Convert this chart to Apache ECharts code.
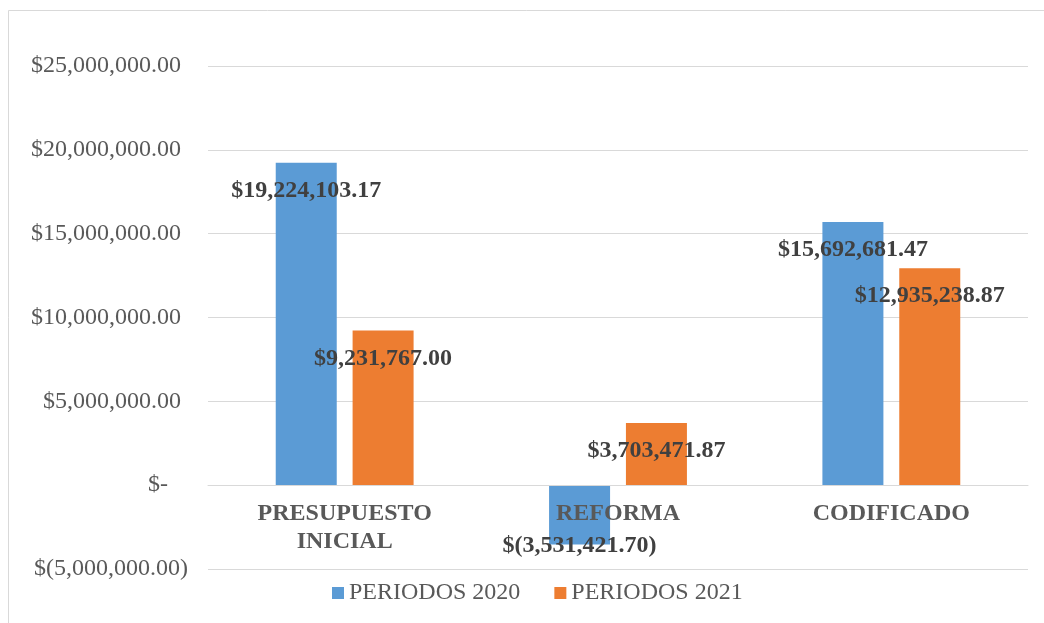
<!DOCTYPE html>
<html>
<head>
<meta charset="utf-8">
<script src="https://cdn.jsdelivr.net/npm/echarts@6/dist/echarts.min.js"></script>
<style>
  html, body { margin: 0; padding: 0; background: #fff; }
  #chart { width: 1044px; height: 623px; }
</style>
</head>
<body>
<div id="chart"></div>
<script>
// datos del grafico
var categories = ['PRESUPUESTO\nINICIAL', 'REFORMA', 'CODIFICADO'];
var seriesNames = ['PERIODOS 2020', 'PERIODOS 2021'];
var values2020 = [19224103.17, -3531421.70, 15692681.47];
var values2021 = [9231767.00, 3703471.87, 12935238.87];
var yTicks = [-5000000, 0, 5000000, 10000000, 15000000, 20000000, 25000000];

var font = '"Liberation Serif", "Times New Roman", serif';

function money(v) {
    var neg = v < 0;
    var parts = Math.abs(v).toFixed(2).split('.');
    var ent = parts[0].replace(/\B(?=(\d{3})+(?!\d))/g, ',');
    var s = ent + '.' + parts[1];
    return neg ? '$(' + s + ')' : '$' + s;
}

function barData(values) {
    return values.map(function (v) {
        var item = { value: v };
        if (v < 0) {
            item.label = { position: 'insideBottom', distance: -13 };
        }
        return item;
    });
}

var chart = echarts.init(document.getElementById('chart'));

var barLabel = {
    show: true,
    position: 'insideTop',
    distance: 16,
    fontFamily: font,
    fontSize: 24,
    fontWeight: 'bold',
    color: '#404040',
    lineHeight: 24,
    formatter: function (p) { return money(p.value); }
};

var option = {
    backgroundColor: '#fff',
    animation: false,
    graphic: [{
        type: 'rect',
        shape: { x: 8.5, y: 10.5, width: 1100, height: 700 },
        style: { fill: 'none', stroke: '#d9d9d9', lineWidth: 1 },
        silent: true
    }],
    grid: { left: 208, right: 16, top: 66, bottom: 54, outerBoundsMode: 'none' },
    legend: {
        data: seriesNames,
        left: 332,
        top: 581,
        padding: 0,
        icon: 'rect',
        itemWidth: 12,
        itemHeight: 12,
        itemGap: 34,
        textStyle: { fontFamily: font, fontSize: 24, color: '#595959', lineHeight: 24 }
    },
    xAxis: {
        type: 'category',
        data: categories,
        z: 5,
        axisLine: { onZero: true, lineStyle: { color: '#d9d9d9', width: 1 } },
        axisTick: { show: false },
        axisLabel: {
            // las etiquetas van bajo la linea del cero
            margin: -69,
            fontFamily: font,
            fontSize: 24,
            fontWeight: 'bold',
            color: '#595959',
            lineHeight: 28
        }
    },
    yAxis: {
        type: 'value',
        min: yTicks[0],
        max: yTicks[yTicks.length - 1],
        interval: 5000000,
        axisLine: { show: false },
        axisTick: { show: false },
        splitLine: { lineStyle: { color: '#d9d9d9', width: 1 } },
        axisLabel: {
            margin: 20,
            formatter: function (v) {
                if (v === 0) return '{z|$-}';
                if (v < 0) return '{n|' + money(v) + '}';
                return '{p|' + money(v) + '}';
            },
            rich: {
                p: { fontFamily: font, fontSize: 24, color: '#595959', padding: [0, 7, 0, 0] },
                n: { fontFamily: font, fontSize: 24, color: '#595959' },
                z: { fontFamily: font, fontSize: 24, color: '#595959', padding: [0, 20, 0, 0] }
            }
        }
    },
    series: [
        {
            name: seriesNames[0],
            type: 'bar',
            data: barData(values2020),
            barWidth: 61,
            barGap: '26%',
            itemStyle: { color: '#5b9bd5' },
            label: barLabel
        },
        {
            name: seriesNames[1],
            type: 'bar',
            data: barData(values2021),
            barWidth: 61,
            barGap: '26%',
            itemStyle: { color: '#ed7d31' },
            label: barLabel
        }
    ]
};

chart.setOption(option);
</script>
</body>
</html>
